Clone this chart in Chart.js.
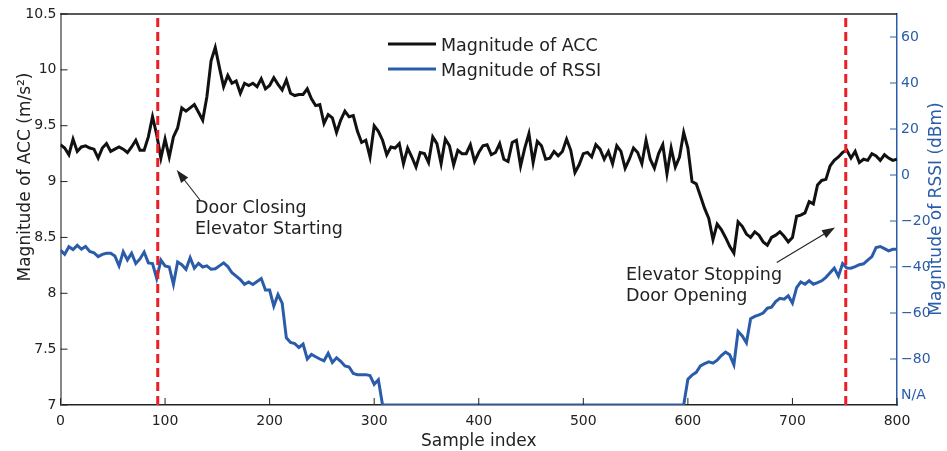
<!DOCTYPE html>
<html>
<head>
<meta charset="utf-8">
<script src="https://cdn.jsdelivr.net/npm/chart.js@4.4.1/dist/chart.umd.min.js"></script>
<style>
  html, body { margin: 0; padding: 0; background: #fff; }
</style>
</head>
<body>
<canvas id="chart" width="947" height="451"></canvas>
<script>
// one reading every STEP samples
const STEP = 4

// magnitude of acceleration (m/s^2), samples 0..800
const accMagnitude = [
  9.33, 9.30, 9.24, 9.38, 9.27, 9.31, 9.32, 9.30, 9.29, 9.21,
  9.30, 9.34, 9.27, 9.29, 9.31, 9.29, 9.26, 9.31, 9.37, 9.28,
  9.28, 9.40, 9.58, 9.42, 9.21, 9.38, 9.22, 9.40, 9.48, 9.66,
  9.63, 9.66, 9.69, 9.62, 9.55, 9.76, 10.08, 10.20, 10.02, 9.85,
  9.95, 9.88, 9.90, 9.79, 9.88, 9.86, 9.88, 9.85, 9.92, 9.83,
  9.86, 9.93, 9.87, 9.82, 9.91, 9.79, 9.77, 9.78, 9.78, 9.83,
  9.74, 9.68, 9.69, 9.52, 9.60, 9.57, 9.44, 9.55, 9.63, 9.58,
  9.59, 9.45, 9.35, 9.37, 9.22, 9.50, 9.45, 9.37, 9.24, 9.31,
  9.30, 9.34, 9.16, 9.30, 9.22, 9.13, 9.26, 9.25, 9.17, 9.40,
  9.34, 9.16, 9.38, 9.32, 9.15, 9.28, 9.25, 9.25, 9.33, 9.18,
  9.26, 9.32, 9.33, 9.24, 9.26, 9.34, 9.20, 9.18, 9.35, 9.37,
  9.14, 9.30, 9.43, 9.17, 9.36, 9.32, 9.20, 9.21, 9.27, 9.23,
  9.27, 9.38, 9.28, 9.08, 9.15, 9.25, 9.26, 9.22, 9.33, 9.29,
  9.20, 9.27, 9.16, 9.32, 9.27, 9.12, 9.20, 9.30, 9.26, 9.16,
  9.37, 9.20, 9.12, 9.25, 9.33, 9.07, 9.30, 9.13, 9.22, 9.44,
  9.30, 9.00, 8.98, 8.87, 8.76, 8.67, 8.48, 8.62, 8.57, 8.50,
  8.42, 8.36, 8.64, 8.60, 8.53, 8.50, 8.55, 8.52, 8.46, 8.43,
  8.50, 8.52, 8.55, 8.51, 8.46, 8.50, 8.69, 8.70, 8.72, 8.82,
  8.80, 8.97, 9.01, 9.02, 9.14, 9.19, 9.22, 9.26, 9.28, 9.21,
  9.27, 9.17, 9.20, 9.19, 9.25, 9.23, 9.19, 9.24, 9.21, 9.19,
  9.20
]

// magnitude of RSSI (dBm), -100 = no signal (N/A)
const rssiMagnitude = [
  -32.6, -34.5, -31.2, -32.4, -30.6, -32.2, -31.1, -33.2, -33.8, -35.5,
  -34.5, -34.0, -34.0, -35.2, -39.5, -33.4, -36.9, -34.0, -38.5, -36.5,
  -33.5, -38.2, -38.5, -45.0, -37.0, -39.5, -40.0, -47.5, -37.8, -39.0,
  -41.0, -36.0, -40.5, -38.4, -40.0, -39.5, -41.0, -40.8, -39.5, -38.2,
  -39.8, -42.5, -44.0, -45.5, -47.5, -46.5, -47.6, -46.3, -45.0, -50.0,
  -50.0, -57.0, -52.0, -55.7, -70.8, -72.8, -73.3, -75.0, -73.5, -80.0,
  -78.0, -79.0, -80.0, -80.8, -77.5, -81.5, -79.5, -81.0, -83.0, -83.5,
  -86.3, -86.8, -86.8, -86.8, -87.2, -91.0, -89.0, -100, -100, -100,
  -100, -100, -100, -100, -100, -100, -100, -100, -100, -100,
  -100, -100, -100, -100, -100, -100, -100, -100, -100, -100,
  -100, -100, -100, -100, -100, -100, -100, -100, -100, -100,
  -100, -100, -100, -100, -100, -100, -100, -100, -100, -100,
  -100, -100, -100, -100, -100, -100, -100, -100, -100, -100,
  -100, -100, -100, -100, -100, -100, -100, -100, -100, -100,
  -100, -100, -100, -100, -100, -100, -100, -100, -100, -100,
  -88.8, -87.0, -85.8, -83.0, -82.0, -81.2, -81.8, -80.5, -78.5, -77.0,
  -78.2, -82.5, -68.0, -70.0, -73.0, -62.5, -61.5, -60.8, -60.0, -57.9,
  -57.5, -55.0, -53.6, -54.0, -52.5, -55.7, -49.0, -46.5, -47.5, -46.0,
  -47.5, -46.8, -46.0, -44.5, -42.5, -40.5, -44.0, -38.5, -40.4, -40.5,
  -39.8, -39.0, -38.6, -37.0, -35.5, -31.5, -31.1, -32.0, -33.0, -32.3,
  -32.3
]

// elevator events (sample index)
const eventSamples = [93, 751]

const rssiTicks = [-80, -60, -40, -20, 0, 20, 40, 60]
const rssiNaTick = -96

const annotations = [
  { lines: ['Door Closing', 'Elevator Starting'], at: [128.6, 8.716], from: [133.4, 8.835], to: [111.1, 9.103] },
  { lines: ['Elevator Stopping', 'Door Opening'], at: [540.8, 8.119], from: [685, 8.276], to: [740.7, 8.589] }
]

const FONT = '"DejaVu Sans", sans-serif'
const INK = '#222'
const BLUE = '#2a5caa'
const RED = '#ee1c25'

const toPoints = vals => vals.map((v, i) => ({ x: i * STEP, y: v }))

function drawArrow(ctx, x0, y0, x1, y1) {
  const ang = Math.atan2(y1 - y0, x1 - x0)
  const len = 13, half = 4.5
  const c = Math.cos(ang), s = Math.sin(ang)
  ctx.beginPath()
  ctx.moveTo(x0, y0)
  ctx.lineTo(x1 - c * len * 0.7, y1 - s * len * 0.7)
  ctx.stroke()
  ctx.beginPath()
  ctx.moveTo(x1, y1)
  ctx.lineTo(x1 - len * c + half * s, y1 - len * s - half * c)
  ctx.lineTo(x1 - len * c - half * s, y1 - len * s + half * c)
  ctx.closePath()
  ctx.fill()
}

const decor = {
  id: 'decor',
  afterDraw(chart) {
    const { ctx, chartArea: a, scales: { x, y, y1 } } = chart
    ctx.save()

    // top box line
    ctx.strokeStyle = INK
    ctx.lineWidth = 1.5
    ctx.beginPath()
    ctx.moveTo(a.left, a.top)
    ctx.lineTo(a.right, a.top)
    ctx.stroke()

    // inward tick marks
    ctx.lineWidth = 1
    x.ticks.forEach(t => {
      const px = x.getPixelForValue(t.value)
      ctx.beginPath(); ctx.moveTo(px, a.bottom); ctx.lineTo(px, a.bottom - 7); ctx.stroke()
    })
    y.ticks.forEach(t => {
      const py = y.getPixelForValue(t.value)
      ctx.beginPath(); ctx.moveTo(a.left, py); ctx.lineTo(a.left + 7, py); ctx.stroke()
    })
    ctx.strokeStyle = BLUE
    y1.ticks.filter(t => t.value !== rssiNaTick).forEach(t => {
      const py = y1.getPixelForValue(t.value)
      ctx.beginPath(); ctx.moveTo(a.right, py); ctx.lineTo(a.right - 7, py); ctx.stroke()
    })

    // axis titles
    ctx.font = '17px ' + FONT
    ctx.textAlign = 'center'
    ctx.textBaseline = 'alphabetic'
    ctx.fillStyle = INK
    ctx.fillText('Sample index', (a.left + a.right) / 2, 445.5)

    ctx.save()
    ctx.translate(30, 177)
    ctx.rotate(-Math.PI / 2)
    ctx.fillText('Magnitude of ACC (m/s\u00B2)', 0, 0)
    ctx.restore()

    ctx.save()
    ctx.translate(941, 209)
    ctx.rotate(-Math.PI / 2)
    ctx.fillStyle = BLUE
    ctx.fillText('Magnitude of RSSI (dBm)', 0, 0)
    ctx.restore()

    // legend
    ctx.font = '17.5px ' + FONT
    ctx.textAlign = 'left'
    ctx.lineWidth = 3
    ;[['Magnitude of ACC', '#111', 44], ['Magnitude of RSSI', BLUE, 69]].forEach(([label, color, ly]) => {
      ctx.strokeStyle = color
      ctx.beginPath(); ctx.moveTo(388, ly); ctx.lineTo(436, ly); ctx.stroke()
      ctx.fillStyle = INK
      ctx.fillText(label, 441, ly + 7)
    })

    // annotations
    ctx.lineWidth = 1.1
    ctx.strokeStyle = INK
    ctx.fillStyle = INK
    annotations.forEach(an => {
      const tx = x.getPixelForValue(an.at[0])
      const ty = y.getPixelForValue(an.at[1])
      an.lines.forEach((line, i) => ctx.fillText(line, tx, ty + i * 21))
      drawArrow(ctx,
        x.getPixelForValue(an.from[0]), y.getPixelForValue(an.from[1]),
        x.getPixelForValue(an.to[0]), y.getPixelForValue(an.to[1]))
    })

    ctx.restore()
  }
}

new Chart(document.getElementById('chart'), {
  type: 'line',
  data: {
    datasets: [
      {
        label: 'Magnitude of ACC',
        data: toPoints(accMagnitude),
        yAxisID: 'y',
        borderColor: '#111',
        borderWidth: 3,
        pointRadius: 0,
        tension: 0,
        order: 2
      },
      {
        label: 'Magnitude of RSSI',
        data: toPoints(rssiMagnitude),
        yAxisID: 'y1',
        borderColor: BLUE,
        borderWidth: 3,
        pointRadius: 0,
        tension: 0,
        order: 3
      },
      ...eventSamples.map(s => ({
        label: 'event',
        data: [{ x: s, y: 7 }, { x: s, y: 10.5 }],
        yAxisID: 'y',
        borderColor: RED,
        borderWidth: 3,
        borderDash: [9, 5],
        pointRadius: 0,
        order: 1
      }))
    ]
  },
  options: {
    responsive: false,
    animation: false,
    layout: { padding: { top: 14, left: 0, right: 0, bottom: 0 } },
    plugins: {
      legend: { display: false },
      tooltip: { enabled: false }
    },
    scales: {
      x: {
        type: 'linear',
        min: 0,
        max: 800,
        grid: { display: false, drawTicks: false },
        border: { color: INK, width: 1.5 },
        ticks: { stepSize: 100, color: INK, font: { family: FONT, size: 14 }, padding: 8 },
        afterFit: s => { s.height = 46 }
      },
      y: {
        position: 'left',
        min: 7,
        max: 10.5,
        grid: { display: false, drawTicks: false },
        border: { color: '#888', width: 2 },
        ticks: {
          stepSize: 0.5,
          color: INK,
          font: { family: FONT, size: 14 },
          padding: 4,
          callback: v => String(v)
        },
        afterFit: s => { s.width = 60.5 }
      },
      y1: {
        position: 'right',
        min: -100,
        max: 70,
        grid: { display: false, drawTicks: false },
        border: { color: BLUE, width: 1.5 },
        afterBuildTicks: s => { s.ticks = [rssiNaTick, ...rssiTicks].map(v => ({ value: v })) },
        ticks: {
          color: BLUE,
          font: { family: FONT, size: 14 },
          padding: 4,
          callback: v => v === rssiNaTick ? 'N/A' : (v < 0 ? '\u2212' + Math.abs(v) : String(v))
        },
        afterFit: s => { s.width = 50 }
      }
    }
  },
  plugins: [decor]
})
</script>
</body>
</html>
